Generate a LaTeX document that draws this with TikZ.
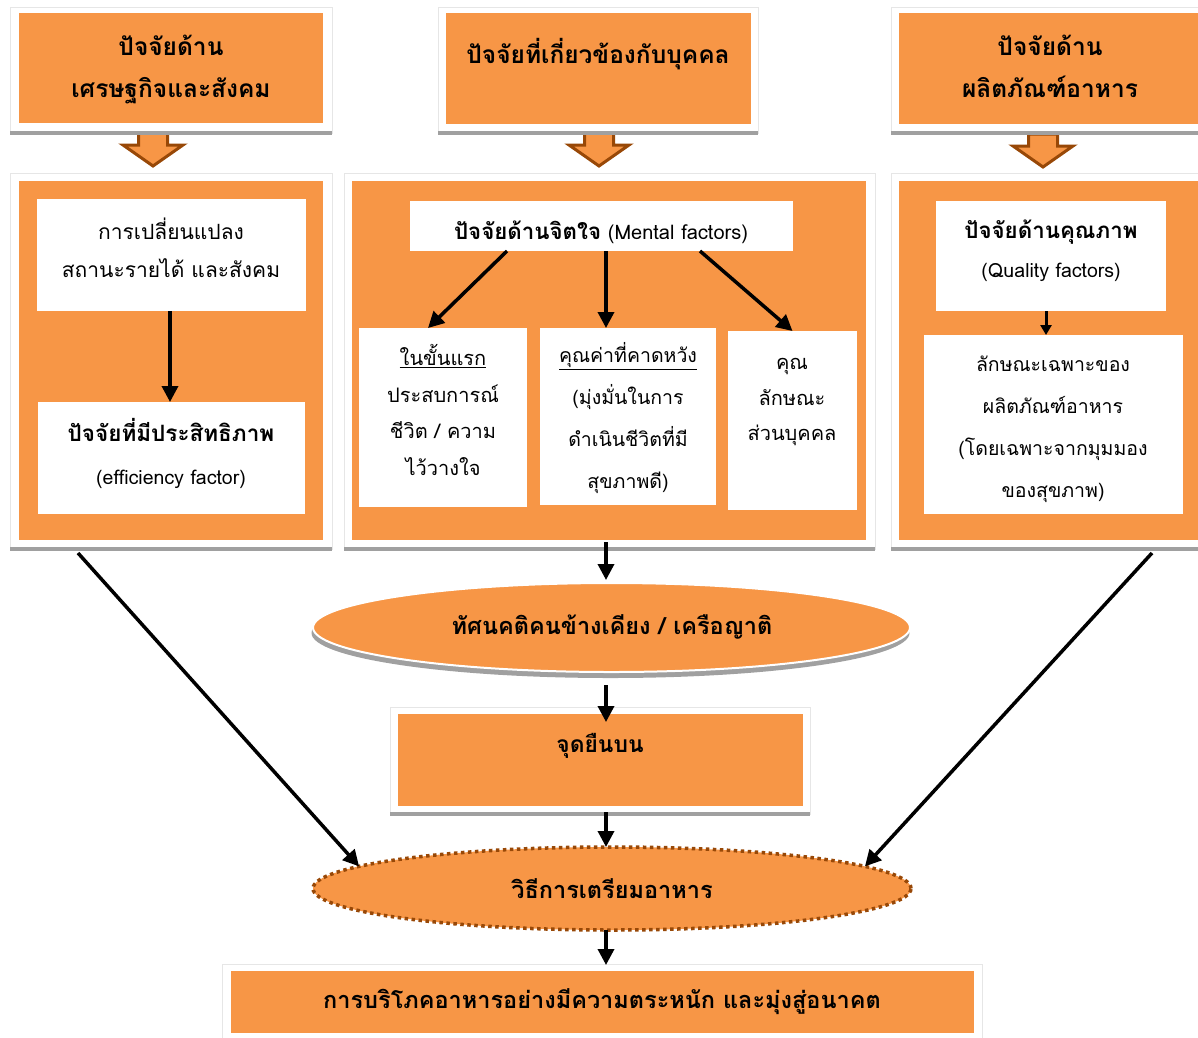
\documentclass[tikz,border=0pt]{standalone}
\usepackage{fontspec}
\setmainfont[Script=Thai]{Loma}
\usetikzlibrary{arrows.meta,calc,shapes.geometric}
\definecolor{orng}{HTML}{F79646}
\definecolor{brwn}{HTML}{984807}
\definecolor{shd}{HTML}{A0A0A0}
\definecolor{edgec}{HTML}{E6E6E6}
\begin{document}
\begin{tikzpicture}[x=1pt,y=-1pt,
  frame/.style={rectangle,fill=white,draw=edgec,line width=0.8pt,inner sep=0,outer sep=0},
  obox/.style={rectangle,fill=orng,draw=none,inner sep=0,outer sep=0},
  wbox/.style={rectangle,fill=white,draw=none,inner sep=0,outer sep=0},
  arr/.style={-{Triangle[length=16pt,width=16pt]},line width=3.5pt},
  sarr/.style={-{Triangle[length=10pt,width=11pt]},line width=3pt},
  hd/.style={font=\fontsize{24.5}{42}\selectfont\bfseries,align=center,inner sep=0},
  hdb/.style={font=\fontsize{23.5}{42}\selectfont\bfseries,align=center,inner sep=0},
  tx/.style={font=\fontsize{20}{38}\selectfont,align=center,inner sep=0},
  shadowline/.style={draw=shd,line width=4pt},
  barrow/.pic={\draw[fill=orng,draw=brwn,line width=3pt,line join=miter]
     (-14.5,0) -- (-14.5,12) -- (-30,12) -- (0,33) -- (30,12) -- (14.5,12) -- (14.5,0) -- cycle;}
]
\useasboundingbox (0,0) rectangle (1198,1037);

% ---------- top row ----------
\node[frame,minimum width=322,minimum height=126] (fT1) at (171,70) {};
\node[frame,minimum width=320,minimum height=126] (fT2) at (598,70) {};
\node[frame,minimum width=307,minimum height=126] (fT3) at (1044.5,70) {};
\node[obox,minimum width=304,minimum height=110] (T1) at (171,68) {};
\node[obox,minimum width=305,minimum height=111] (T2) at (598.5,68.5) {};
\node[obox,minimum width=299,minimum height=111] (T3) at (1048.5,68.5) {};
\node[hd] (T1t) at (171,69) {ปัจจัยด้าน\\เศรษฐกิจและสังคม};
\node[hd] (T2t) at (598,54) {ปัจจัยที่เกี่ยวข้องกับบุคคล};
\node[hd] (T3t) at (1050,66) {ปัจจัยด้าน\\ผลิตภัณฑ์อาหาร};

\pic at (153,133) {barrow};
\pic at (599,133) {barrow};
\pic at (1043,134) {barrow};
\draw[shadowline] (fT1.south west) -- (fT1.south east);
\draw[shadowline] (fT2.south west) -- (fT2.south east);
\draw[shadowline] (fT3.south west) -- (fT3.south east);

% ---------- second row ----------
\node[frame,minimum width=322,minimum height=376] (fL) at (171,361) {};
\node[frame,minimum width=531,minimum height=376] (fM) at (609.5,361) {};
\node[frame,minimum width=307,minimum height=376] (fR) at (1044.5,361) {};
\draw[shadowline] (fL.south west) -- (fL.south east);
\draw[shadowline] (fM.south west) -- (fM.south east);
\draw[shadowline] (fR.south west) -- (fR.south east);
\node[obox,minimum width=304,minimum height=359] (L) at (171,360.5) {};
\node[obox,minimum width=514,minimum height=359] (M) at (609,360.5) {};
\node[obox,minimum width=299,minimum height=359] (R) at (1048.5,360.5) {};

% left column
\node[wbox,minimum width=269,minimum height=112] (L1) at (171.5,255) {};
\node[wbox,minimum width=267,minimum height=112] (L2) at (171.5,458) {};
\node[tx,font=\fontsize{21}{38}\selectfont] (L1t) at (171,248) {การเปลี่ยนแปลง\\สถานะรายได้ และสังคม};
\node[tx,font=\fontsize{19}{43}\selectfont] (L2t) at (171,453.5) {{\fontsize{22.5}{43}\selectfont\bfseries ปัจจัยที่มีประสิทธิภาพ}\\{\fontsize{19.5}{43}\selectfont (efficiency factor)}};
\draw[arr] ([xshift=-1.5pt]L1.south) -- ([xshift=-1.5pt]L2.north);

% middle column
\node[wbox,minimum width=383,minimum height=50] (MH) at (601.5,226) {};
\node[tx] (MHt) at (601,232) {{\fontsize{22.3}{40}\selectfont\bfseries ปัจจัยด้านจิตใจ} {\fontsize{20}{40}\selectfont (Mental factors)}};
\node[wbox,minimum width=168,minimum height=179] (MA) at (443,417.5) {};
\node[wbox,minimum width=176,minimum height=177] (MB) at (628,416.5) {};
\node[wbox,minimum width=129,minimum height=179] (MC) at (792.5,420.5) {};
\node[tx,font=\fontsize{20}{36.5}\selectfont] (MAt) at (443,410) {\underline{ในขั้นแรก}\\ประสบการณ์\\ชีวิต / ความ\\ไว้วางใจ};
\node[tx,font=\fontsize{19.5}{42}\selectfont] (MBt) at (628,418) {\underline{คุณค่าที่คาดหวัง}\\(มุ่งมั่นในการ\\ดำเนินชีวิตที่มี\\สุขภาพดี)};
\node[tx,font=\fontsize{20}{35.5}\selectfont] (MCt) at (792,402) {คุณ\\ลักษณะ\\ส่วนบุคคล};
\draw[arr] ([xshift=-94.5pt]MH.south) -- ([xshift=-15pt]MA.north);
\draw[arr] ([xshift=4.5pt]MH.south) -- ([xshift=-22pt]MB.north);
\draw[arr] ([xshift=98.5pt]MH.south) -- ([xshift=0pt]MC.north);

% right column
\node[wbox,minimum width=230,minimum height=110] (R1) at (1051,256) {};
\node[wbox,minimum width=259,minimum height=179] (R2) at (1053.5,424.5) {};
\node[tx,font=\fontsize{19}{39}\selectfont] (R1t) at (1051,251) {{\fontsize{22.3}{39}\selectfont\bfseries ปัจจัยด้านคุณภาพ}\\{\fontsize{19.5}{39}\selectfont (Quality factors)}};
\node[tx,font=\fontsize{19.5}{42}\selectfont] (R2t) at (1053,429) {ลักษณะเฉพาะของ\\ผลิตภัณฑ์อาหาร\\(โดยเฉพาะจากมุมมอง\\ของสุขภาพ)};
\draw[sarr] ([xshift=-5pt]R1.south) -- ([xshift=-7.5pt]R2.north);

% ---------- ellipse 1 ----------
\fill[shd] (610.5,633) ellipse [x radius=299, y radius=45];
\node[ellipse,fill=orng,draw=white,line width=2pt,minimum width=597,minimum height=89,inner sep=0,outer sep=0] (E1) at (611.5,627.5) {};
\node[hdb] (E1t) at (612,627) {ทัศนคติคนข้างเคียง / เครือญาติ};
\draw[arr] ([xshift=-3pt,yshift=-2pt]M.south) -- ([xshift=-5.5pt,yshift=3pt]E1.north);

% ---------- standpoint box ----------
\node[frame,minimum width=420,minimum height=107] (fJ) at (600,760.5) {};
\draw[shadowline] (fJ.south west) -- (fJ.south east);
\node[obox,minimum width=405,minimum height=92] (J) at (600.5,760) {};
\node[hdb,font=\fontsize{22.8}{42}\selectfont\bfseries] (Jt) at (600,746) {จุดยืนบน};
\draw[arr] ([xshift=-5.5pt,yshift=-13pt]E1.south) -- ([xshift=5.5pt,yshift=-8pt]J.north);

% ---------- ellipse 2 ----------
\node[ellipse,fill=orng,draw=brwn,line width=3.5pt,dash pattern=on 3.5pt off 3.5pt,minimum width=598,minimum height=83,inner sep=0,outer sep=0] (E2) at (612,888.5) {};
\node[hdb] (E2t) at (612,889) {วิธีการเตรียมอาหาร};
\draw[arr] ([xshift=5.5pt,yshift=-6pt]J.south) -- ([xshift=-6pt]E2.north);

\coordinate (dL) at (78,553);
\coordinate (dR) at (1152,553);
\draw[arr] (dL) -- (E2.175);
\draw[arr] (dR) -- (E2.5);

% ---------- bottom box ----------
\node[frame,minimum width=760,minimum height=76] (fB) at (602,1002) {};
\node[obox,minimum width=743,minimum height=62] (B) at (602.5,1002) {};
\node[hdb] (Bt) at (602,1002) {การบริโภคอาหารอย่างมีความตระหนัก และมุ่งสู่อนาคต};
\draw[arr] ([xshift=-6pt]E2.south) -- ([xshift=3.5pt,yshift=6pt]B.north);
\end{tikzpicture}
\end{document}
